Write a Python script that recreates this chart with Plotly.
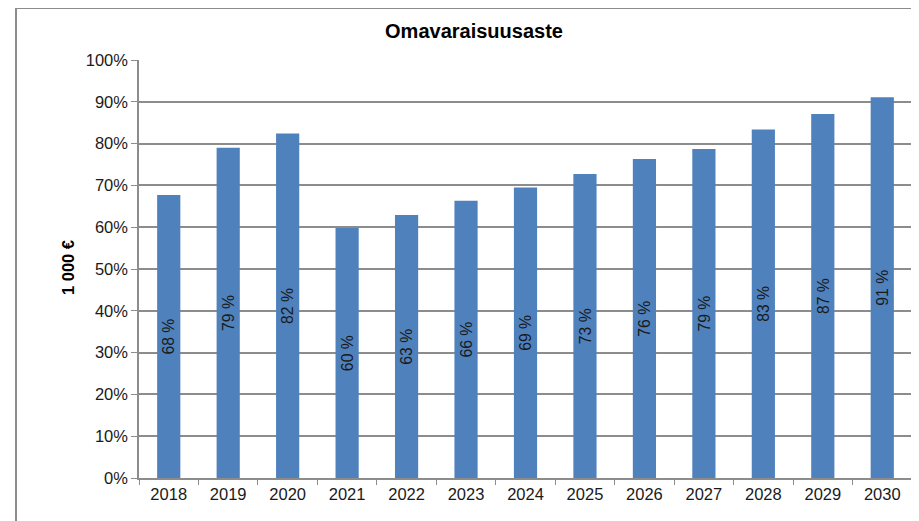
import plotly.graph_objects as go

years = ["2018", "2019", "2020", "2021", "2022", "2023", "2024", "2025", "2026", "2027", "2028", "2029", "2030"]
values = [67.7, 79.0, 82.4, 59.8, 62.9, 66.3, 69.5, 72.7, 76.3, 78.7, 83.4, 87.1, 91.1]
labels = ["68 %", "79 %", "82 %", "60 %", "63 %", "66 %", "69 %", "73 %", "76 %", "79 %", "83 %", "87 %", "91 %"]
y_ticks = [0, 10, 20, 30, 40, 50, 60, 70, 80, 90, 100]
y_tick_text = [f"{v}%" for v in y_ticks]

FONT = "Liberation Sans, Arial, sans-serif"
GRID = "#8c8c8c"
TXT = "#1a1a1a"

# page body has an 8px margin; figure is sized/placed to compensate
OFF = 8
W, H = 919 - OFF, 521 - OFF
PL, PR, PT, PB = 139, 912, 60, 478  # plot area in page pixels
pw, ph = PR - PL, PB - PT

fig = go.Figure(go.Bar(
    x=years, y=values, text=labels,
    textposition="inside", textangle=-90, insidetextanchor="middle",
    textfont=dict(family=FONT, size=16.5, color=TXT),
    marker=dict(color="#4f81bd", line=dict(width=0)),
    hoverinfo="skip",
))

fig.update_layout(
    width=W, height=H,
    margin=dict(l=PL - OFF, r=OFF + W - PR, t=PT - OFF, b=OFF + H - PB, autoexpand=False),
    paper_bgcolor="white", plot_bgcolor="white",
    bargap=0.61,
    showlegend=False,
    font=dict(family=FONT, size=16.5, color=TXT),
    title=dict(text="<b>Omavaraisuusaste</b>", x=(474 - OFF) / W, xref="container", xanchor="center",
               y=1 - (31 - OFF) / H, yref="container", yanchor="middle",
               font=dict(family=FONT, size=20, color="black")),
    xaxis=dict(
        type="category", showgrid=False, showline=True, linecolor=GRID, linewidth=1.5,
        ticks="outside", ticklen=5, tickcolor=GRID, tickson="boundaries",
        tickfont=dict(family=FONT, size=16.5, color=TXT),
    ),
    yaxis=dict(
        range=[0, 100], tickvals=y_ticks, ticktext=y_tick_text,
        showgrid=True, gridcolor=GRID, gridwidth=1.5,
        showline=True, linecolor=GRID, linewidth=1.5,
        ticks="outside", ticklen=6, tickcolor=GRID,
        tickfont=dict(family=FONT, size=16.5, color=TXT),
        zeroline=False,
    ),
    annotations=[dict(
        text="<b>1 000 €</b>", textangle=-90, xref="paper", yref="paper",
        x=(68 - PL) / pw, y=(PB - 268) / ph, showarrow=False,
        xanchor="center", yanchor="middle",
        font=dict(family=FONT, size=16.5, color="black"),
    )],
    shapes=[dict(
        type="rect", xref="paper", yref="paper",
        x0=(16 - PL) / pw, x1=(930 - PL) / pw,
        y0=(PB - 540) / ph, y1=1 + (PT - 8) / ph,
        line=dict(color="#8c8c8c", width=2), layer="below",
    )],
)

fig.write_html("out.html")
